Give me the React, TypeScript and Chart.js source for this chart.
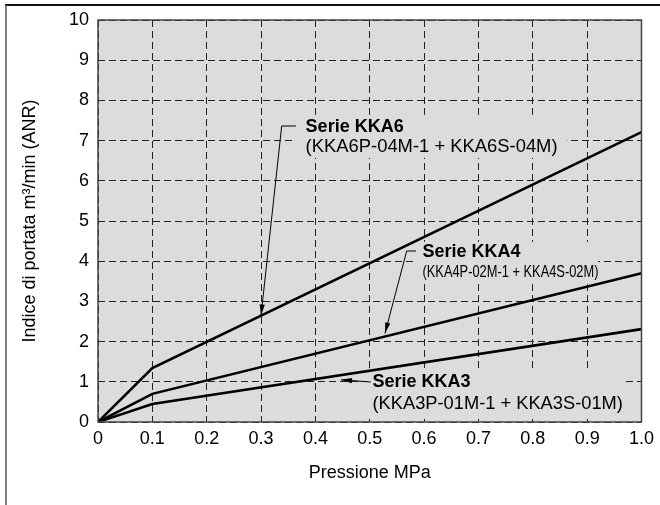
import { useEffect, useRef } from "react";
import { Chart, registerables } from "chart.js";

Chart.register(...registerables);

// ---- data ----
const pressure = [0, 0.1, 1.0];
const kka6 = [0, 1.34, 7.21];
const kka4 = [0, 0.7, 3.7];
const kka3 = [0, 0.45, 2.31];
const seriesNames = ["Serie KKA6", "Serie KKA4", "Serie KKA3"];
const seriesModels = [
  "(KKA6P-04M-1 + KKA6S-04M)",
  "(KKA4P-02M-1 + KKA4S-02M)",
  "(KKA3P-01M-1 + KKA3S-01M)",
];
const xTitle = "Pressione MPa";
const yTitle = "Indice di portata m\u00B3/min (ANR)";

// ---- styling / annotation placement (data units) ----
const FONT = "'Liberation Sans', Arial, Helvetica, sans-serif";
const PLOT_BG = "#dcdcdc";
const notes = [
  { textX: 0.382, nameY: 7.214, modelY: 6.716, box: [0.36, 7.64, 0.862, 6.57], from: [0.364, 0.338, 7.363], tip: [0.3, 2.65], modelSize: 18.4, modelWidth: 0 },
  { textX: 0.597, nameY: 4.1, modelY: 3.61, box: [0.585, 4.48, 0.92, 3.43], from: [0.585, 0.568, 4.254], tip: [0.528, 2.2], modelSize: 17, modelWidth: 176 },
  { textX: 0.505, nameY: 0.87, modelY: 0.32, box: [0.495, 1.244, 0.965, 0.075], from: [0.502, 0.502, 0.995], tip: [0.447, 1.05], modelSize: 18.3, modelWidth: 0 },
];

const notesPlugin = {
  id: "notes",
  beforeDraw(chart: any) {
    const { ctx, chartArea: a } = chart;
    ctx.save();
    ctx.fillStyle = "#fff";
    ctx.fillRect(0, 0, chart.width, chart.height);
    ctx.strokeStyle = "#111";
    ctx.lineWidth = 2;
    ctx.beginPath();
    ctx.moveTo(5, 5);
    ctx.lineTo(chart.width, 5);
    ctx.stroke();
    ctx.strokeStyle = "#555";
    ctx.lineWidth = 1.5;
    ctx.beginPath();
    ctx.moveTo(6, 5);
    ctx.lineTo(6, chart.height);
    ctx.stroke();
    ctx.fillStyle = PLOT_BG;
    ctx.fillRect(a.left, a.top, a.right - a.left, a.bottom - a.top);
    ctx.restore();
  },
  beforeDatasetsDraw(chart: any) {
    const { ctx } = chart;
    const xs = chart.scales.x, ys = chart.scales.y;
    ctx.save();
    ctx.fillStyle = PLOT_BG;
    notes.forEach((n) => {
      const x1 = xs.getPixelForValue(n.box[0]);
      const y1 = ys.getPixelForValue(n.box[1]);
      const x2 = xs.getPixelForValue(n.box[2]);
      const y2 = ys.getPixelForValue(n.box[3]);
      ctx.fillRect(x1, y1, x2 - x1, y2 - y1);
    });
    ctx.restore();
  },
  afterDatasetsDraw(chart: any) {
    const { ctx, chartArea: a } = chart;
    const xs = chart.scales.x, ys = chart.scales.y;
    ctx.save();
    ctx.strokeStyle = "#444";
    ctx.lineWidth = 1.5;
    ctx.strokeRect(a.left, a.top, a.right - a.left, a.bottom - a.top);

    notes.forEach((n, i) => {
      const sx1 = xs.getPixelForValue(n.from[0]);
      const sx2 = xs.getPixelForValue(n.from[1]);
      const sy = ys.getPixelForValue(n.from[2]);
      const tx = xs.getPixelForValue(n.tip[0]);
      const ty = ys.getPixelForValue(n.tip[1]);
      ctx.strokeStyle = "#000";
      ctx.lineWidth = 1;
      ctx.beginPath();
      ctx.moveTo(sx1, sy);
      ctx.lineTo(sx2, sy);
      ctx.lineTo(tx, ty);
      ctx.stroke();
      const ang = Math.atan2(ty - sy, tx - sx2);
      const L = 11, W = 2.6;
      const bx = tx - L * Math.cos(ang), by = ty - L * Math.sin(ang);
      ctx.fillStyle = "#000";
      ctx.beginPath();
      ctx.moveTo(tx, ty);
      ctx.lineTo(bx + W * Math.sin(ang), by - W * Math.cos(ang));
      ctx.lineTo(bx - W * Math.sin(ang), by + W * Math.cos(ang));
      ctx.closePath();
      ctx.fill();

      const px = xs.getPixelForValue(n.textX);
      ctx.fillStyle = "#000";
      ctx.textAlign = "left";
      ctx.textBaseline = "alphabetic";
      ctx.font = `bold 18px ${FONT}`;
      ctx.fillText(seriesNames[i], px, ys.getPixelForValue(n.nameY));
      ctx.font = `${n.modelSize}px ${FONT}`;
      if (n.modelWidth) {
        ctx.fillText(seriesModels[i], px, ys.getPixelForValue(n.modelY), n.modelWidth);
      } else {
        ctx.fillText(seriesModels[i], px, ys.getPixelForValue(n.modelY));
      }
    });
    ctx.restore();
  },
};

const toPoints = (ys: number[]) => pressure.map((x, i) => ({ x, y: ys[i] }));

export default function App() {
  const ref = useRef<HTMLCanvasElement | null>(null);
  useEffect(() => {
    if (!ref.current) return;
    const lineStyle = { borderColor: "#000", borderWidth: 2.6, pointRadius: 0, tension: 0, fill: false };
    const chart = new Chart(ref.current, {
      type: "line",
      data: {
        datasets: [
          { label: seriesNames[0], data: toPoints(kka6), ...lineStyle },
          { label: seriesNames[1], data: toPoints(kka4), ...lineStyle },
          { label: seriesNames[2], data: toPoints(kka3), ...lineStyle },
        ],
      },
      options: {
        responsive: false,
        animation: false,
        devicePixelRatio: 1,
        layout: { padding: { left: 0, right: 10, top: 20, bottom: 0 } },
        plugins: { legend: { display: false }, tooltip: { enabled: false } },
        scales: {
          x: {
            type: "linear",
            min: 0,
            max: 1,
            afterFit: (s: any) => { s.height = 83; },
            ticks: {
              stepSize: 0.1,
              color: "#000",
              padding: 6,
              maxRotation: 0,
              font: { family: FONT, size: 18 },
              callback: (v: any) => (Math.abs(v) < 1e-9 ? "0" : Number(v).toFixed(1)),
            },
            grid: { color: "#222", lineWidth: 1, drawTicks: false },
            border: { display: false, dash: [7, 4] },
            title: { display: true, text: xTitle, color: "#000", font: { family: FONT, size: 18 }, padding: { top: 0, bottom: 21 } },
          },
          y: {
            type: "linear",
            min: 0,
            max: 10,
            afterFit: (s: any) => { s.width = 98; },
            ticks: {
              stepSize: 1,
              color: "#000",
              padding: 9,
              font: { family: FONT, size: 18 },
              callback: (v: any) => String(Math.round(Number(v))),
            },
            grid: { color: "#222", lineWidth: 1, drawTicks: false },
            border: { display: false, dash: [7, 4] },
            title: { display: true, text: yTitle, color: "#000", font: { family: FONT, size: 18 }, padding: { top: 19, bottom: 0 } },
          },
        },
      },
      plugins: [notesPlugin],
    } as any);
    return () => chart.destroy();
  }, []);
  return (
    <div style={{ position: "absolute", left: 0, top: 0, width: 660, height: 505 }}>
      <canvas ref={ref} width={660} height={505} style={{ display: "block", width: 660, height: 505 }} />
    </div>
  );
}
